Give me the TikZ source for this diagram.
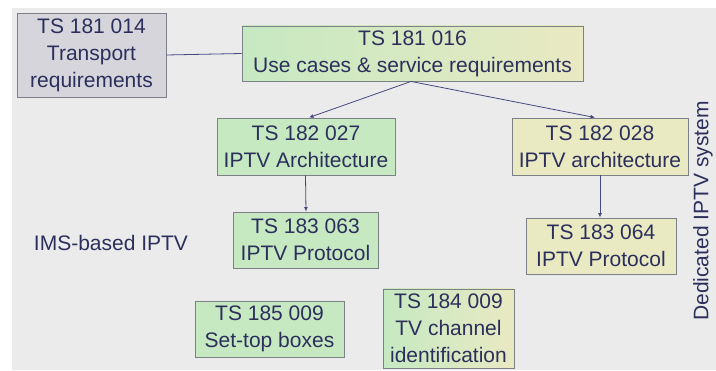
\documentclass[tikz,border=0pt]{standalone}
\usepackage{fontspec}
\setmainfont{Liberation Sans}
\usetikzlibrary{arrows.meta}
\definecolor{bg}{HTML}{EBEBEB}
\definecolor{boxgreen}{HTML}{C6E9C2}
\definecolor{boxyellow}{HTML}{E9E9C2}
\definecolor{boxgrey}{HTML}{D5D5DB}
\definecolor{edge}{HTML}{7C8188}
\definecolor{ink}{HTML}{2C2F5C}
\definecolor{conn}{HTML}{45497E}
\tikzset{
  doc/.style={draw=edge, line width=0.9pt, inner sep=0pt, align=center,
    text=ink, font=\fontsize{21}{27}\selectfont},
  gbox/.style={doc, fill=boxgreen},
  ybox/.style={doc, fill=boxyellow},
  mbox/.style={doc, left color=boxgreen, right color=boxyellow},
  conline/.style={draw=conn, line width=0.8pt},
  arr/.style={conline, -{Latex[length=4.5pt,width=4pt]}},
  lbl/.style={text=ink, font=\fontsize{21}{27}\selectfont, inner sep=0pt}
}
\begin{document}
\begin{tikzpicture}[x=1pt,y=-1pt]
\fill[white] (0,0) rectangle (716,371);
\fill[bg] (12,8) rectangle (716,370);
\useasboundingbox (0,0) rectangle (716,371);

\node[doc, fill=boxgrey, minimum width=149pt, minimum height=84pt] (a) at (91.5,55) {TS 181 014\\Transport\\requirements};
\node[mbox, minimum width=341pt, minimum height=55pt] (b) at (412.5,53.5) {TS 181 016\\Use cases \& service requirements};
\node[gbox, minimum width=178pt, minimum height=57pt] (c) at (306,146.5) {TS 182 027\\IPTV Architecture};
\node[ybox, minimum width=176pt, minimum height=57pt] (d) at (600,146.5) {TS 182 028\\IPTV architecture};
\node[gbox, minimum width=145pt, minimum height=56pt] (e) at (305.5,240) {TS 183 063\\IPTV Protocol};
\node[ybox, minimum width=150pt, minimum height=56pt] (f) at (601,246) {TS 183 064\\IPTV Protocol};
\node[gbox, minimum width=149pt, minimum height=56pt] (g) at (269.5,329) {TS 185 009\\Set-top boxes};
\node[mbox, minimum width=131pt, minimum height=79pt] (h) at (448.5,328.5) {TS 184 009\\TV channel\\identification};

\node[lbl] (ims) at (111,243) {IMS-based IPTV};
\node[lbl, rotate=90] (ded) at (703,211) {Dedicated IPTV system};

\draw[conline] (a.east) -- (b.west);
\coordinate (bs) at ([xshift=-1.5pt]b.south);
\draw[arr] (bs) -- ([xshift=3pt]c.north);
\draw[arr] (bs) -- ([xshift=-5pt]d.north);
\draw[arr] ([xshift=-0.5pt]c.south) -- (c.south |- e.north);
\draw[arr] (d.south) -- (d.south |- f.north);
\end{tikzpicture}
\end{document}
